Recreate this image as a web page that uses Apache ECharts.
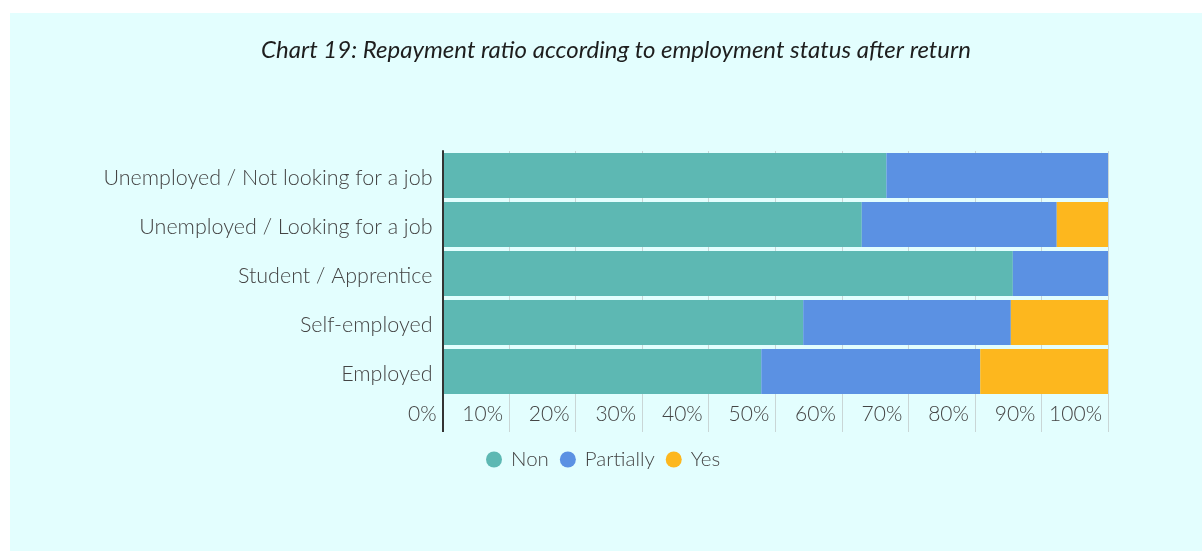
<!DOCTYPE html>
<html>
<head>
<meta charset="utf-8">
<script src="https://cdn.jsdelivr.net/npm/echarts@6/dist/echarts.min.js"></script>
<style>
  html, body { margin: 0; padding: 0; background: #ffffff; width: 1202px; height: 551px; overflow: hidden; }
  #chart { position: absolute; left: 10px; top: 13px; width: 1192px; height: 538px; background: #e3fefe; }
</style>
</head>
<body>
<div id="chart"></div>
<script>
// Employment status after return (top to bottom)
const categories = [
  'Unemployed / Not looking for a job',
  'Unemployed / Looking for a job',
  'Student / Apprentice',
  'Self-employed',
  'Employed'
];

// Share of returnees per repayment outcome, in percent
const nonValues       = [66.7, 63.0, 85.7, 54.2, 47.9];
const partiallyValues = [33.3, 29.3, 14.3, 31.2, 32.9];
const yesValues       = [0.0,  7.7,  0.0,  14.6, 19.2];

const seriesNames = ['Non', 'Partially', 'Yes'];
const seriesColors = ['#5db8b3', '#5b91e3', '#fdb71e'];
const tickValues = [0, 10, 20, 30, 40, 50, 60, 70, 80, 90, 100];

const textColor = '#444444';
const gridColor = '#c9d6d6';
const fontFamily = 'Lato, "Open Sans", sans-serif';

const chart = echarts.init(document.getElementById('chart'), null, { renderer: 'canvas' });

const seriesData = [nonValues, partiallyValues, yesValues];

chart.setOption({
  animation: false,
  backgroundColor: 'transparent',
  textStyle: { fontFamily: fontFamily },
  title: {
    text: 'Chart 19: Repayment ratio according to employment status after return',
    left: 601,
    top: 20,
    textAlign: 'center',
    textStyle: {
      fontFamily: fontFamily,
      fontStyle: 'italic',
      fontWeight: 'normal',
      fontSize: 24,
      color: '#1e1e1e'
    }
  },
  legend: {
    data: seriesNames,
    left: 471,
    top: 431,
    icon: 'circle',
    itemWidth: 16,
    itemHeight: 16,
    itemGap: 11,
    textStyle: { fontFamily: fontFamily, fontWeight: 300, fontSize: 20.5, color: textColor, padding: [0, 0, 0, 4] }
  },
  grid: {
    left: 432.5,
    right: 94,
    top: 138,
    height: 245,
    containLabel: false
  },
  xAxis: [
    {
      type: 'value',
      min: 0,
      max: 100,
      interval: 10,
      axisLine: { show: false },
      axisTick: { show: true, length: 36, lineStyle: { color: gridColor, width: 1 } },
      splitLine: { show: true, lineStyle: { color: gridColor, width: 1 } },
      axisLabel: {
        show: true,
        customValues: tickValues,
        formatter: v => v + '%',
        align: 'right',
        verticalAlign: 'top',
        margin: 8,
        padding: [0, 6, 0, 0],
        fontFamily: fontFamily,
        fontWeight: 300,
        fontSize: 21,
        color: textColor
      }
    },
    {
      // carries the left axis line down through the tick label row
      type: 'value',
      min: 0,
      max: 100,
      position: 'bottom',
      axisLine: { show: false },
      axisLabel: { show: false },
      splitLine: { show: false },
      axisTick: { show: true, customValues: [0], length: 36, lineStyle: { color: '#333333', width: 2 } },
      z: 5
    }
  ],
  yAxis: {
    type: 'category',
    data: categories,
    inverse: true,
    axisLine: { show: true, lineStyle: { color: '#333333', width: 2 } },
    axisTick: { show: false },
    splitLine: { show: false },
    axisLabel: {
      margin: 10,
      verticalAlign: 'top',
      padding: [-8, 0, 0, 0],
      fontFamily: fontFamily,
      fontWeight: 300,
      fontSize: 21.5,
      color: textColor
    },
    z: 5
  },
  series: seriesNames.map((name, i) => ({
    name: name,
    type: 'bar',
    stack: 'total',
    xAxisIndex: 0,
    data: seriesData[i],
    barCategoryGap: '8.2%',
    itemStyle: { color: seriesColors[i] },
    emphasis: { disabled: true }
  }))
});
</script>
</body>
</html>
